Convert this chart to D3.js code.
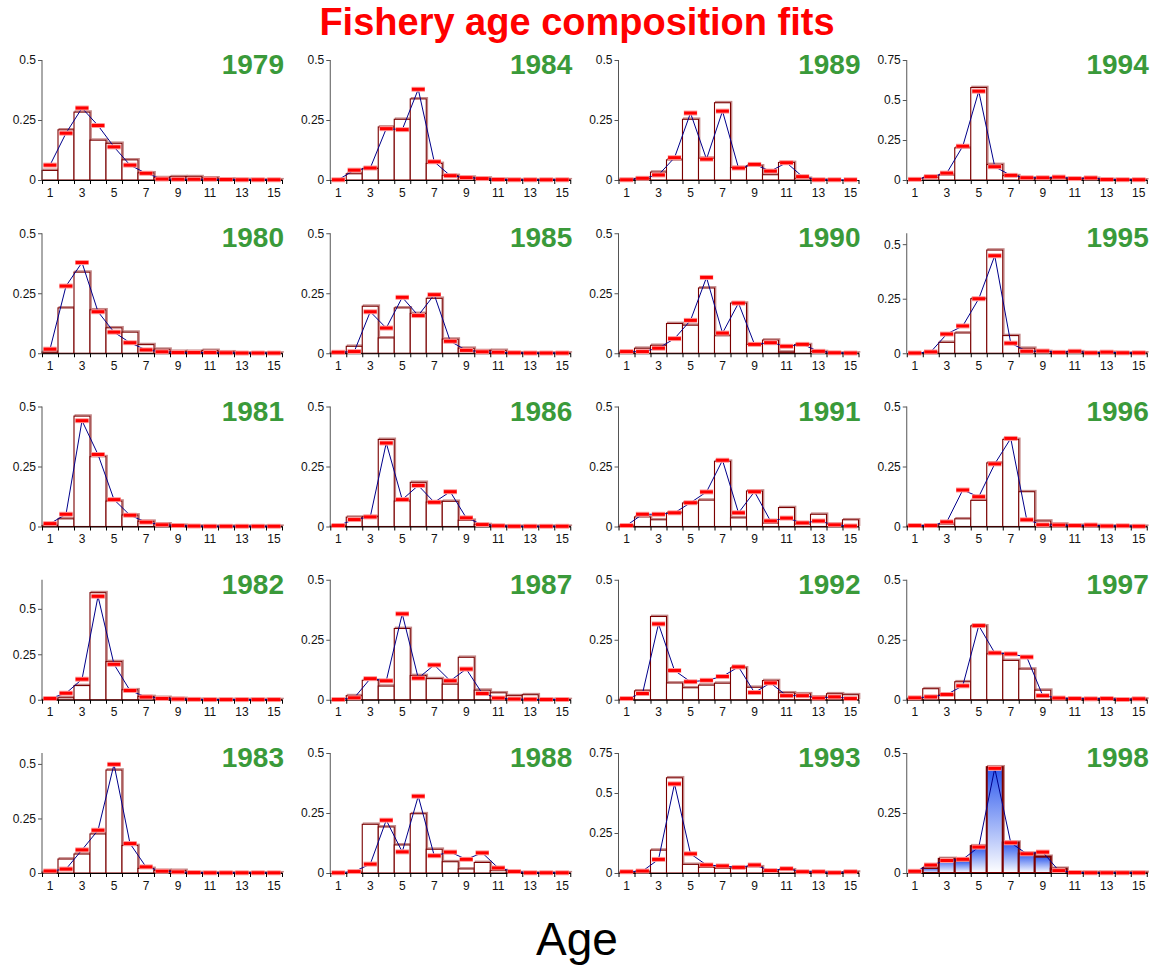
<!DOCTYPE html>
<html>
<head>
<meta charset="utf-8">
<script src="https://cdn.jsdelivr.net/npm/d3@7"></script>
<style>
  html, body { margin: 0; padding: 0; background: #fff; }
  svg { display: block; font-family: Arial, "Liberation Sans", Helvetica, sans-serif; }
</style>
</head>
<body>
<svg id="chart" width="1153" height="966"></svg>
<script>
// Ages on the x axis and the survey years, one panel per year
const ages = d3.range(1, 16);
const years = d3.range(1979, 1999);
const yTickValues = [0, 0.25, 0.5, 0.75];
const xLabelAges = [1, 3, 5, 7, 9, 11, 13, 15];

// Observed (bars) and predicted (dashes + line) proportions at age, ages 1..15
const obs1979 = [0.040,0.209,0.283,0.166,0.153,0.084,0.030,0.010,0.014,0.014,0.009,0.004,0.002,0.001,0.001];
const fit1979 = [0.062,0.195,0.300,0.227,0.138,0.062,0.028,0.004,0.003,0.003,0.003,0.002,0.001,0.001,0.001];
const obs1980 = [0.005,0.189,0.338,0.181,0.106,0.088,0.036,0.017,0.008,0.008,0.012,0.006,0.001,0.001,0.001];
const fit1980 = [0.017,0.280,0.378,0.173,0.088,0.044,0.014,0.006,0.003,0.003,0.003,0.002,0.001,0.001,0.001];
const obs1981 = [0.004,0.032,0.460,0.291,0.106,0.048,0.022,0.011,0.005,0.002,0.001,0.001,0.001,0.001,0.001];
const fit1981 = [0.012,0.051,0.441,0.300,0.112,0.047,0.018,0.007,0.004,0.002,0.001,0.001,0.001,0.001,0.001];
const obs1982 = [0.002,0.011,0.078,0.589,0.210,0.055,0.018,0.013,0.007,0.002,0.001,0.001,0.001,0.001,0.001];
const fit1982 = [0.007,0.036,0.113,0.569,0.195,0.051,0.015,0.007,0.004,0.002,0.001,0.001,0.001,0.001,0.001];
const obs1983 = [0.004,0.064,0.087,0.179,0.472,0.126,0.021,0.012,0.012,0.002,0.001,0.001,0.001,0.001,0.001];
const fit1983 = [0.009,0.018,0.106,0.196,0.498,0.135,0.028,0.008,0.005,0.002,0.001,0.001,0.001,0.001,0.001];
const obs1984 = [0.000,0.026,0.048,0.221,0.253,0.338,0.069,0.019,0.012,0.008,0.003,0.001,0.001,0.001,0.001];
const fit1984 = [0.001,0.041,0.050,0.214,0.210,0.378,0.076,0.018,0.010,0.006,0.002,0.001,0.001,0.001,0.001];
const obs1985 = [0.002,0.029,0.196,0.064,0.189,0.166,0.229,0.059,0.021,0.011,0.012,0.002,0.001,0.001,0.001];
const fit1985 = [0.004,0.007,0.173,0.105,0.233,0.157,0.244,0.050,0.012,0.006,0.004,0.002,0.001,0.001,0.001];
const obs1986 = [0.002,0.039,0.041,0.363,0.106,0.184,0.102,0.105,0.026,0.008,0.002,0.001,0.001,0.001,0.001];
const fit1986 = [0.004,0.029,0.040,0.348,0.112,0.171,0.101,0.145,0.036,0.008,0.003,0.001,0.001,0.001,0.001];
const obs1987 = [0.000,0.017,0.081,0.057,0.297,0.101,0.088,0.065,0.177,0.040,0.029,0.017,0.021,0.001,0.001];
const fit1987 = [0.001,0.008,0.088,0.079,0.358,0.090,0.145,0.079,0.128,0.026,0.007,0.003,0.002,0.001,0.001];
const obs1988 = [0.000,0.001,0.203,0.192,0.117,0.247,0.099,0.047,0.017,0.044,0.010,0.002,0.001,0.001,0.001];
const fit1988 = [0.001,0.006,0.037,0.220,0.088,0.320,0.072,0.087,0.057,0.084,0.021,0.006,0.001,0.001,0.001];
const obs1989 = [0.002,0.006,0.033,0.084,0.253,0.091,0.322,0.052,0.059,0.022,0.073,0.007,0.001,0.000,0.000];
const fit1989 = [0.001,0.007,0.021,0.093,0.279,0.087,0.287,0.050,0.065,0.037,0.072,0.014,0.001,0.001,0.001];
const obs1990 = [0.004,0.021,0.033,0.124,0.117,0.272,0.073,0.209,0.037,0.055,0.005,0.036,0.007,0.001,0.001];
const fit1990 = [0.007,0.007,0.021,0.061,0.137,0.316,0.084,0.209,0.037,0.044,0.029,0.037,0.008,0.002,0.001];
const obs1991 = [0.002,0.040,0.028,0.057,0.098,0.110,0.272,0.036,0.148,0.014,0.079,0.010,0.051,0.010,0.028];
const fit1991 = [0.004,0.051,0.051,0.057,0.099,0.144,0.276,0.057,0.145,0.023,0.035,0.015,0.023,0.007,0.002];
const obs1992 = [0.001,0.037,0.347,0.070,0.050,0.061,0.069,0.133,0.052,0.080,0.029,0.025,0.012,0.025,0.021];
const fit1992 = [0.005,0.026,0.316,0.122,0.075,0.081,0.097,0.137,0.030,0.070,0.017,0.017,0.007,0.012,0.005];
const obs1993 = [0.002,0.008,0.143,0.595,0.054,0.035,0.029,0.031,0.039,0.010,0.020,0.005,0.004,0.001,0.006];
const fit1993 = [0.008,0.012,0.085,0.557,0.120,0.050,0.044,0.035,0.050,0.015,0.027,0.008,0.008,0.002,0.008];
const obs1994 = [0.000,0.015,0.031,0.201,0.578,0.097,0.027,0.012,0.010,0.010,0.007,0.010,0.003,0.001,0.001];
const fit1994 = [0.004,0.021,0.043,0.211,0.555,0.083,0.029,0.014,0.014,0.018,0.009,0.013,0.003,0.002,0.002];
const obs1995 = [0.000,0.002,0.050,0.093,0.250,0.473,0.081,0.023,0.008,0.004,0.007,0.002,0.004,0.001,0.002];
const fit1995 = [0.001,0.006,0.088,0.125,0.250,0.447,0.046,0.009,0.010,0.004,0.009,0.002,0.005,0.002,0.002];
const obs1996 = [0.002,0.003,0.010,0.032,0.109,0.265,0.363,0.145,0.023,0.010,0.005,0.004,0.002,0.002,0.001];
const fit1996 = [0.004,0.004,0.019,0.152,0.124,0.261,0.367,0.028,0.007,0.006,0.004,0.006,0.002,0.003,0.001];
const obs1997 = [0.004,0.046,0.020,0.075,0.308,0.191,0.164,0.128,0.040,0.004,0.004,0.003,0.003,0.001,0.003];
const fit1997 = [0.008,0.012,0.022,0.058,0.309,0.195,0.191,0.178,0.017,0.007,0.005,0.004,0.005,0.001,0.004];
const obs1998 = [0.000,0.021,0.059,0.051,0.112,0.441,0.127,0.081,0.068,0.018,0.001,0.001,0.001,0.001,0.001];
const fit1998 = [0.007,0.033,0.052,0.057,0.108,0.436,0.126,0.080,0.087,0.010,0.002,0.001,0.001,0.001,0.001];

// Upper limit of each panel's y axis, in year order
const yMax = [0.5,0.5,0.5,0.66,0.55, 0.5,0.5,0.5,0.5,0.5, 0.5,0.5,0.5,0.5,0.75, 0.75,0.55,0.5,0.5,0.5];

const observed = [obs1979,obs1980,obs1981,obs1982,obs1983,obs1984,obs1985,obs1986,obs1987,obs1988,
                  obs1989,obs1990,obs1991,obs1992,obs1993,obs1994,obs1995,obs1996,obs1997,obs1998];
const fitted   = [fit1979,fit1980,fit1981,fit1982,fit1983,fit1984,fit1985,fit1986,fit1987,fit1988,
                  fit1989,fit1990,fit1991,fit1992,fit1993,fit1994,fit1995,fit1996,fit1997,fit1998];

// Year of the panel whose bars are shaded
const highlightYear = 1998;

const svg = d3.select("#chart");
const W = 1153;
const colW = W / 4;
const rowH = 173.25;
const firstZero = 180;
const plotH = 120;
const axisLeftOff = 42;
const plotW = 240;

// Vertical blue-to-white shading used for the highlighted panel
const defs = svg.append("defs");
const grad = defs.append("linearGradient")
  .attr("id", "barShade")
  .attr("x1", 0).attr("y1", 0).attr("x2", 0).attr("y2", 1);
grad.append("stop").attr("offset", "0%").attr("stop-color", "#2c58ee");
grad.append("stop").attr("offset", "100%").attr("stop-color", "#ffffff");

// Title and shared x label
svg.append("text")
  .attr("x", 577).attr("y", 35)
  .attr("text-anchor", "middle")
  .attr("fill", "#ff0000")
  .attr("font-weight", "bold")
  .attr("font-size", 38)
  .text("Fishery age composition fits");

svg.append("text")
  .attr("x", 577).attr("y", 955)
  .attr("text-anchor", "middle")
  .attr("fill", "#000")
  .attr("font-size", 46)
  .text("Age");

years.forEach((year, i) => {
  const col = Math.floor(i / 5);
  const row = i % 5;
  const left = col * colW + axisLeftOff;
  const zero = firstZero + row * rowH;
  const obs = observed[i];
  const fit = fitted[i];
  const ymax = yMax[i];
  const shaded = year === highlightYear;

  const x = d3.scaleBand().domain(ages).range([left, left + plotW]).paddingInner(0).paddingOuter(0);
  const xEdge = d3.scaleLinear().domain([0.5, 15.5]).range([left, left + plotW]);
  const y = d3.scaleLinear().domain([0, ymax]).range([zero, zero - plotH]);
  const bw = x.bandwidth();

  const g = svg.append("g").attr("class", "panel");

  // Observed proportions as open bars with a soft offset edge
  const rows = ages.map((a, k) => ({ age: a, obs: obs[k], fit: fit[k] }));

  g.selectAll("rect.edge").data(rows).join("rect")
    .attr("class", "edge")
    .attr("x", d => x(d.age) + 1.2)
    .attr("y", d => y(d.obs) - 1.2)
    .attr("width", bw)
    .attr("height", d => zero - y(d.obs))
    .attr("fill", "none")
    .attr("stroke", "#c48888")
    .attr("stroke-width", shaded ? 2 : 1.3);

  g.selectAll("rect.bar").data(rows).join("rect")
    .attr("class", "bar")
    .attr("x", d => x(d.age))
    .attr("y", d => y(d.obs))
    .attr("width", bw)
    .attr("height", d => zero - y(d.obs))
    .attr("fill", shaded ? "url(#barShade)" : "#ffffff")
    .attr("stroke", "#7a0000")
    .attr("stroke-width", shaded ? 2 : 1.1);

  // Y axis
  const yAxis = d3.axisLeft(y)
    .tickValues(yTickValues.filter(v => v <= ymax + 1e-9))
    .tickSize(4)
    .tickSizeOuter(0)
    .tickFormat(d => d === 0 ? "0" : String(d));
  const ya = g.append("g").attr("transform", `translate(${left},0)`).call(yAxis);
  ya.select(".domain").attr("stroke", "#555").attr("d", `M0,${zero - plotH}V${zero}`);
  ya.selectAll(".tick line").attr("stroke", "#555");
  ya.selectAll(".tick text").attr("font-size", 12).attr("fill", "#111")
    .attr("font-family", "Arial, 'Liberation Sans', sans-serif").attr("x", -6);

  // X axis: tick marks on bin edges, labels on odd ages
  const xTicks = d3.axisBottom(xEdge)
    .tickValues(d3.range(0.5, 16, 1))
    .tickSize(4)
    .tickSizeOuter(0)
    .tickFormat("");
  const xa = g.append("g").attr("transform", `translate(0,${zero})`).call(xTicks);
  xa.select(".domain").attr("stroke", "#000").attr("stroke-width", 1.2);
  xa.selectAll(".tick line").attr("stroke", "#000");

  const xLabels = d3.axisBottom(x)
    .tickValues(xLabelAges)
    .tickSize(0)
    .tickPadding(8);
  const xl = g.append("g").attr("transform", `translate(0,${zero})`).call(xLabels);
  xl.select(".domain").remove();
  xl.selectAll(".tick text").attr("font-size", 12).attr("fill", "#111")
    .attr("font-family", "Arial, 'Liberation Sans', sans-serif");

  // Predicted proportions: connecting line and dashes
  const line = d3.line().x(d => x(d.age) + bw / 2).y(d => y(d.fit));
  g.append("path").datum(rows)
    .attr("d", line)
    .attr("fill", "none")
    .attr("stroke", "#00008b")
    .attr("stroke-width", 1);

  g.selectAll("line.glow").data(rows).join("line")
    .attr("class", "glow")
    .attr("x1", d => x(d.age) + bw * 0.08)
    .attr("x2", d => x(d.age) + bw * 0.92)
    .attr("y1", d => y(d.fit)).attr("y2", d => y(d.fit))
    .attr("stroke", "#ff9a9a")
    .attr("stroke-width", 5);

  g.selectAll("line.fit").data(rows).join("line")
    .attr("class", "fit")
    .attr("x1", d => x(d.age) + bw * 0.1)
    .attr("x2", d => x(d.age) + bw * 0.9)
    .attr("y1", d => y(d.fit)).attr("y2", d => y(d.fit))
    .attr("stroke", "#ff0000")
    .attr("stroke-width", 3);

  // Year label
  g.append("text")
    .attr("x", col * colW + 284)
    .attr("y", zero - plotH + 14)
    .attr("text-anchor", "end")
    .attr("fill", "#3a9a3a")
    .attr("font-weight", "bold")
    .attr("font-size", 28)
    .text(year);
});
</script>
</body>
</html>
